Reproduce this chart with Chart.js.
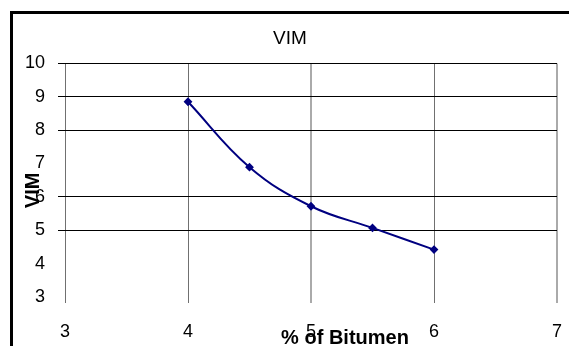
<!DOCTYPE html>
<html>
<head>
<meta charset="utf-8">
<script src="https://cdn.jsdelivr.net/npm/chart.js@4"></script>
<style>
  html, body { margin: 0; padding: 0; background: #fff; }
  #wrap { width: 569px; height: 346px; }
</style>
</head>
<body>
<div id="wrap"><canvas id="vimChart"></canvas></div>
<script>
// dados
const bitumen = [4, 4.5, 5, 5.5, 6];
const vim = [8.85, 6.89, 5.72, 5.07, 4.42];
const xTicks = [3, 4, 5, 6, 7];
const yTicks = [3, 4, 5, 6, 7, 8, 9, 10];
const yGridShown = [5, 6, 8, 9, 10]; // linhas horizontais visíveis na figura
const xLabel = '% of Bitumen';
const yLabel = 'VIM';

const FONT = '"Liberation Sans", Arial, sans-serif';
Chart.defaults.font.family = FONT;
Chart.defaults.color = '#000';

// moldura preta + fundo branco
const frame = {
    id: 'frame',
    beforeDraw(chart) {
        const c = chart.ctx;
        c.save();
        c.fillStyle = '#fff';
        c.fillRect(0, 0, chart.width, chart.height);
        c.strokeStyle = '#000';
        c.lineWidth = 3;
        c.strokeRect(11.5, 12.5, chart.width + 20, chart.height + 20);
        c.restore();
    }
};

// títulos dos eixos (deslocados como no original)
const axisTitles = {
    id: 'axisTitles',
    afterDraw(chart) {
        const c = chart.ctx;
        const a = chart.chartArea;
        c.save();
        c.font = 'bold 20px ' + FONT;
        c.fillStyle = '#000';
        c.textAlign = 'center';
        c.textBaseline = 'middle';
        c.fillText(xLabel, a.left + 280, 338);
        c.translate(33, a.top + 127);
        c.rotate(-Math.PI / 2);
        c.fillText(yLabel, 0, 0);
        c.restore();
    }
};

const ctx = document.getElementById('vimChart').getContext('2d');
new Chart(ctx, {
    type: 'line',
    data: {
        datasets: [{
            label: 'VIM',
            data: bitumen.map((x, i) => ({ x: x, y: vim[i] })),
            borderColor: '#000080',
            backgroundColor: '#000080',
            borderWidth: 2,
            tension: 0.4,
            pointStyle: 'rectRot',
            pointRadius: 3,
            fill: false
        }]
    },
    options: {
        responsive: true,
        maintainAspectRatio: false,
        animation: false,
        layout: { padding: { left: 23, right: 12, top: 0, bottom: 0 } },
        plugins: {
            legend: { display: false },
            tooltip: { enabled: false },
            title: {
                display: true,
                text: 'VIM',
                font: { size: 19, weight: 'normal', lineHeight: 1.2 },
                padding: { top: 27.6, bottom: 13 }
            }
        },
        scales: {
            x: {
                type: 'linear',
                min: xTicks[0],
                max: xTicks[xTicks.length - 1],
                afterBuildTicks: s => { s.ticks = xTicks.map(v => ({ value: v })); },
                afterFit: s => { s.height = 49; },
                border: { display: false },
                grid: {
                    color: c => (c.tick && (c.tick.value === 5 || c.tick.value === 7)) ? '#aaaaaa' : '#707070',
                    lineWidth: c => (c.tick && (c.tick.value === 5 || c.tick.value === 7)) ? 2 : 1,
                    tickLength: 6
                },
                ticks: { font: { size: 18, lineHeight: 3.2 }, padding: 0, maxRotation: 0 }
            },
            y: {
                min: yTicks[0],
                max: yTicks[yTicks.length - 1],
                afterBuildTicks: s => { s.ticks = yTicks.map(v => ({ value: v })); },
                afterFit: s => { s.width = 42; },
                border: { display: false },
                grid: {
                    color: c => (c.tick && yGridShown.includes(c.tick.value)) ? '#000' : 'rgba(0,0,0,0)',
                    lineWidth: 1,
                    tickLength: 7
                },
                ticks: { font: { size: 18 }, padding: 13 }
            }
        }
    },
    plugins: [frame, axisTitles]
});
</script>
</body>
</html>
